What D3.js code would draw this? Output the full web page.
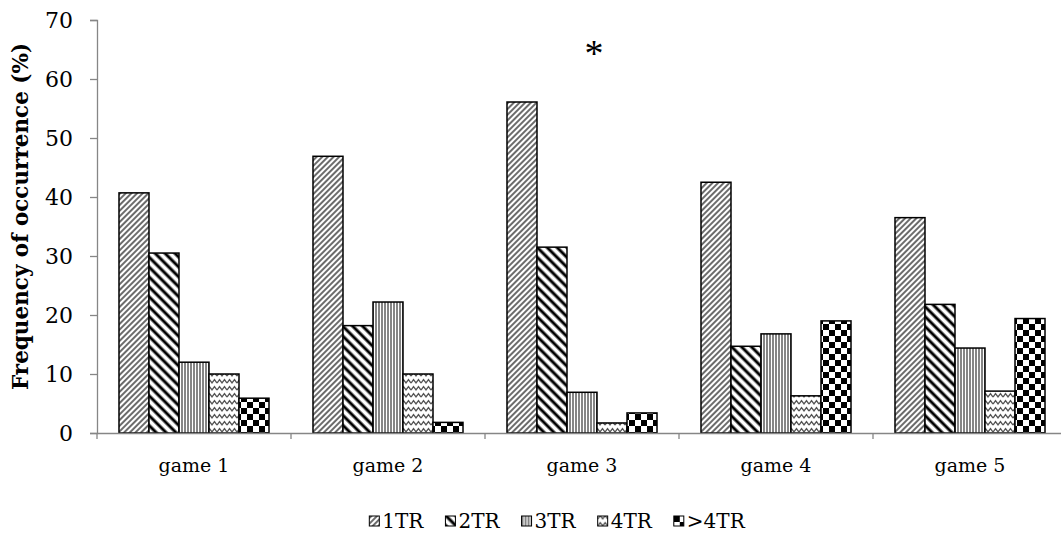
<!DOCTYPE html>
<html>
<head>
<meta charset="utf-8">
<script src="https://cdn.jsdelivr.net/npm/d3@7"></script>
<style>
  html, body { margin: 0; padding: 0; background: #fff; }
  svg { display: block; }
  text { font-family: "DejaVu Serif", "Liberation Serif", serif; fill: #000; }
</style>
</head>
<body>
<div id="chart"></div>
<script>
// ---- data ----
const categories = ["game 1", "game 2", "game 3", "game 4", "game 5"];
const seriesNames = ["1TR", "2TR", "3TR", "4TR", ">4TR"];
const values1TR = [40.7, 46.9, 56.1, 42.5, 36.5];
const values2TR = [30.5, 18.2, 31.5, 14.7, 21.8];
const values3TR = [12.0, 22.2, 6.9, 16.8, 14.4];
const values4TR = [10.0, 10.0, 1.7, 6.3, 7.1];
const valuesGT4TR = [5.9, 1.8, 3.4, 19.0, 19.4];
const yTicks = [0, 10, 20, 30, 40, 50, 60, 70];
const yTitle = "Frequency of occurrence (%)";
const annotation = "*";
const annotatedCategory = "game 3";

const seriesValues = [values1TR, values2TR, values3TR, values4TR, valuesGT4TR];

const W = 1061, H = 538;
const svg = d3.select("#chart").append("svg").attr("width", W).attr("height", H);

// ---- patterns ----
const defs = svg.append("defs");
// 1TR: fine upward diagonal
const p1 = defs.append("pattern").attr("id", "pat0").attr("patternUnits", "userSpaceOnUse")
  .attr("width", 4).attr("height", 4).attr("patternTransform", "rotate(45)");
p1.append("rect").attr("width", 4).attr("height", 4).attr("fill", "#fff");
p1.append("line").attr("x1", 1).attr("y1", 0).attr("x2", 1).attr("y2", 4)
  .attr("stroke", "#3a3a3a").attr("stroke-width", 1.5);
// 2TR: wide downward diagonal
const p2 = defs.append("pattern").attr("id", "pat1").attr("patternUnits", "userSpaceOnUse")
  .attr("width", 7).attr("height", 7).attr("patternTransform", "rotate(-45)");
p2.append("rect").attr("width", 7).attr("height", 7).attr("fill", "#fff");
p2.append("line").attr("x1", 2).attr("y1", 0).attr("x2", 2).attr("y2", 7)
  .attr("stroke", "#000").attr("stroke-width", 3);
// 3TR: narrow vertical
const p3 = defs.append("pattern").attr("id", "pat2").attr("patternUnits", "userSpaceOnUse")
  .attr("width", 3).attr("height", 3);
p3.append("rect").attr("width", 3).attr("height", 3).attr("fill", "#fff");
p3.append("line").attr("x1", 1).attr("y1", 0).attr("x2", 1).attr("y2", 3)
  .attr("stroke", "#333").attr("stroke-width", 1.2);
// 4TR: wave
const p4 = defs.append("pattern").attr("id", "pat3").attr("patternUnits", "userSpaceOnUse")
  .attr("width", 10).attr("height", 7);
p4.append("rect").attr("width", 10).attr("height", 7).attr("fill", "#fff");
p4.append("path").attr("d", "M0,5 L2.5,1.5 L5,5 L7.5,1.5 L10,5")
  .attr("fill", "none").attr("stroke", "#555").attr("stroke-width", 1.3);
// >4TR: checkerboard
const p5 = defs.append("pattern").attr("id", "pat4").attr("patternUnits", "userSpaceOnUse")
  .attr("width", 12).attr("height", 12);
p5.append("rect").attr("width", 12).attr("height", 12).attr("fill", "#fff");
p5.append("rect").attr("x", 0).attr("y", 0).attr("width", 6).attr("height", 6).attr("fill", "#000");
p5.append("rect").attr("x", 6).attr("y", 6).attr("width", 6).attr("height", 6).attr("fill", "#000");

// ---- scales ----
const x0 = d3.scaleBand().domain(categories).range([97, 1067]).paddingInner(0).paddingOuter(0);
const x1 = d3.scaleBand().domain(seriesNames).range([0, x0.bandwidth()])
  .paddingInner(0).paddingOuter(0.733);
const y = d3.scaleLinear().domain([0, 70]).range([433, 20]);

// ---- bars ----
const groups = svg.append("g").selectAll("g").data(categories).join("g")
  .attr("transform", d => `translate(${x0(d)},0)`);
groups.selectAll("rect")
  .data((c, ci) => seriesNames.map((s, si) => ({ s, si, v: seriesValues[si][ci] })))
  .join("rect")
  .attr("x", d => x1(d.s))
  .attr("y", d => y(d.v))
  .attr("width", x1.bandwidth())
  .attr("height", d => y(0) - y(d.v))
  .attr("fill", d => `url(#pat${d.si})`)
  .attr("stroke", "#000")
  .attr("stroke-width", 1.5);

// ---- axes ----
const axisColor = "#868686";
const fontFam = "DejaVu Serif";
const yAxis = svg.append("g").attr("transform", "translate(97,0)")
  .call(d3.axisLeft(y).tickValues(yTicks).tickSize(7).tickPadding(17).tickFormat(d3.format("d")));
yAxis.select(".domain").attr("stroke", axisColor).attr("stroke-width", 1.3);
yAxis.selectAll(".tick line").attr("stroke", axisColor).attr("stroke-width", 1.3);
yAxis.selectAll(".tick text").style("font-family", fontFam).style("font-size", "22px").attr("fill", "#000");

const xAxis = svg.append("g").attr("transform", `translate(0,${y(0)})`)
  .call(d3.axisBottom(x0).tickSize(0).tickPadding(0));
xAxis.select(".domain").attr("stroke", axisColor).attr("stroke-width", 1.6);
xAxis.selectAll(".tick text").attr("y", 39).attr("dy", 0)
  .style("font-family", fontFam).style("font-size", "19px").attr("fill", "#000");
// category separator ticks
const sepPositions = categories.map(c => x0(c)).concat([x0.range()[1]]);
xAxis.selectAll(".sep").data(sepPositions).join("line").attr("class", "sep")
  .attr("x1", d => d).attr("x2", d => d).attr("y1", 0).attr("y2", 6)
  .attr("stroke", axisColor).attr("stroke-width", 1.3);

// ---- y title ----
svg.append("text")
  .attr("transform", `translate(28,${(y(0) + y(70)) / 2 - 10}) rotate(-90)`)
  .attr("text-anchor", "middle")
  .style("font-family", fontFam)
  .style("font-weight", "bold")
  .style("font-size", "21.5px")
  .text(yTitle);

// ---- annotation ----
svg.append("text")
  .attr("x", x0(annotatedCategory) + x0.bandwidth() / 2 + 12)
  .attr("y", 66)
  .attr("text-anchor", "middle")
  .style("font-family", "Liberation Serif")
  .style("font-size", "38px")
  .text(annotation);

// ---- legend ----
const legend = svg.append("g");
const items = legend.selectAll("g").data(seriesNames).join("g");
items.append("rect").attr("x", 0).attr("y", -12).attr("width", 10).attr("height", 10)
  .attr("fill", (d, i) => `url(#pat${i})`).attr("stroke", "#000").attr("stroke-width", 1);
items.append("text").attr("x", 13).attr("y", 0)
  .style("font-family", fontFam).style("font-size", "20px").text(d => d);
const widths = [];
items.each(function () {
  widths.push(13 + this.querySelector("text").getComputedTextLength());
});
const gap = 22;
const total = d3.sum(widths) + gap * (widths.length - 1);
let start = 557 - total / 2;
items.attr("transform", (d, i) => {
  const t = `translate(${start},528)`;
  start += widths[i] + gap;
  return t;
});
</script>
</body>
</html>
